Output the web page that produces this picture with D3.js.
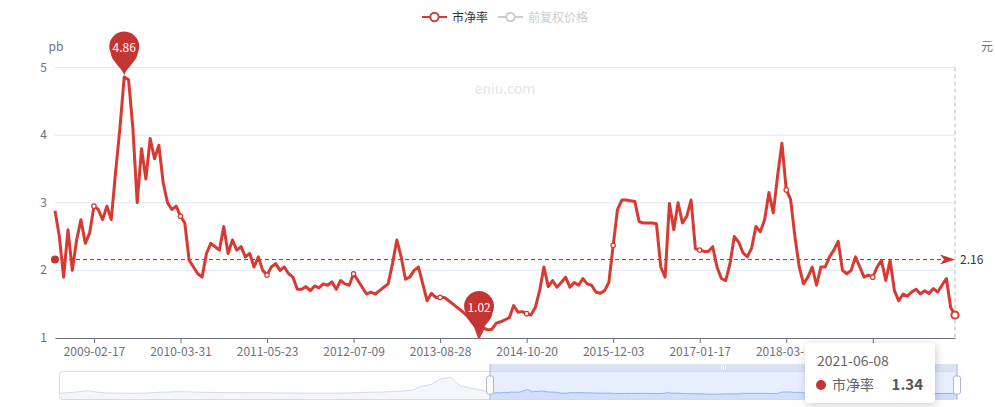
<!DOCTYPE html>
<html><head><meta charset="utf-8">
<script src="https://cdn.jsdelivr.net/npm/d3@7"></script>
<style>
body{margin:0;background:#fff;}
svg{display:block;font-family:"Microsoft YaHei","Noto Sans CJK SC","Noto Sans",sans-serif;}
</style></head><body><svg id="c" width="995" height="407"></svg>
<script>
const seriesNames = ["市净率", "前复权价格"];
const pbValues = [
2.88,2.5,1.9,2.6,2.0,2.45,2.75,2.4,2.55,2.95,
2.9,2.75,2.95,2.75,3.45,4.1,4.86,4.82,4.1,3.0,
3.8,3.35,3.95,3.65,3.85,3.3,3.0,2.9,2.95,2.8,
2.7,2.15,2.05,1.95,1.9,2.25,2.4,2.35,2.3,2.65,
2.25,2.45,2.3,2.35,2.2,2.25,2.05,2.2,2.0,1.93,
2.05,2.1,2.0,2.05,1.95,1.9,1.72,1.72,1.76,1.7,
1.77,1.74,1.8,1.78,1.83,1.72,1.85,1.8,1.78,1.95,
1.85,1.75,1.65,1.68,1.65,1.7,1.75,1.8,2.1,2.45,
2.2,1.87,1.9,2.0,2.05,1.8,1.55,1.66,1.6,1.6,
1.6,1.55,1.5,1.45,1.4,1.34,1.28,1.2,1.02,1.15,
1.12,1.13,1.22,1.24,1.27,1.3,1.48,1.38,1.39,1.36,
1.34,1.45,1.7,2.05,1.76,1.85,1.75,1.82,1.9,1.75,
1.82,1.78,1.88,1.8,1.78,1.68,1.66,1.7,1.82,2.37,
2.9,3.04,3.04,3.03,3.02,2.72,2.7,2.7,2.7,2.69,
2.05,1.9,2.99,2.6,3.0,2.7,2.8,3.04,2.32,2.3,
2.28,2.28,2.35,2.05,1.88,1.85,2.1,2.5,2.42,2.26,
2.2,2.33,2.65,2.57,2.75,3.15,2.85,3.4,3.88,3.19,
3.05,2.5,2.05,1.8,1.9,2.05,1.78,2.05,2.05,2.2,
2.3,2.43,2.0,1.95,2.0,2.2,2.05,1.9,1.93,1.9,
2.05,2.15,1.85,2.15,1.7,1.55,1.65,1.62,1.68,1.72,
1.65,1.7,1.66,1.73,1.68,1.78,1.88,1.45,1.34
];
const tickLabels = ["2009-02-17","2010-03-31","2011-05-23","2012-07-09","2013-08-28",
  "2014-10-20","2015-12-03","2017-01-17","2018-03-12","2019-04-29"];
const labelInterval = 20, labelOffset = 9;
const lastDate = "2021-06-08";
const yTicks = [1, 2, 3, 4, 5];
const avgValue = 2.16;
const historyPreview = [
1.9,2.4,3.2,4.1,2.7,2.2,2.0,1.9,1.9,2.0,
2.7,2.9,3.3,3.2,2.9,2.7,2.6,2.5,2.5,2.4,
2.4,2.4,2.3,2.2,2.1,2.0,1.9,1.9,1.9,2.1,
2.3,2.6,2.8,3.0,3.4,3.8,4.5,8.0,9.5,14.5,
15.5,8.0,6.5,4.8
];
const zoomStart = 0.48;

const lineColor = "#d73a32", pinColor = "#c23531", axisColor = "#6E7079";
const svg = d3.select("#c");
const N = pbValues.length;
const x = d3.scalePoint().domain(d3.range(N)).range([55, 955]);
const y = d3.scaleLinear().domain([1, 5]).range([338, 67.5]);

// gridlines
svg.append("g").selectAll("line").data(yTicks.filter(v => v > 1)).join("line")
  .attr("x1", 55).attr("x2", 955).attr("y1", d => y(d)).attr("y2", d => y(d))
  .attr("stroke", "#E0E6F1").attr("stroke-width", 1);

// watermark
svg.append("text").attr("x", 505).attr("y", 94).attr("text-anchor", "middle")
  .attr("font-size", 14).attr("fill", "#e4e4e4").text("eniu.com");

// y labels
svg.append("g").selectAll("text").data(yTicks).join("text")
  .attr("x", 47).attr("y", d => y(d) + 4).attr("text-anchor", "end")
  .attr("font-size", 12).attr("fill", axisColor).text(d => d);
svg.append("text").attr("x", 56).attr("y", 51).attr("text-anchor", "middle")
  .attr("font-size", 12).attr("fill", axisColor).text("pb");
svg.append("text").attr("x", 987).attr("y", 51).attr("text-anchor", "middle")
  .attr("font-size", 12).attr("fill", axisColor).text("元");

// x axis
const tickIdx = d3.range(N).filter(i => i >= labelOffset && (i - labelOffset) % labelInterval === 0);
const xAxis = d3.axisBottom(x).tickValues(tickIdx).tickSize(5).tickPadding(4)
  .tickFormat(i => tickLabels[(i - labelOffset) / labelInterval]);
const gx = svg.append("g").attr("transform", "translate(0,338)").call(xAxis);
gx.select(".domain").attr("stroke", axisColor).attr("d", "M55.5,0.5H955.5");
gx.selectAll(".tick line").attr("stroke", axisColor);
gx.selectAll(".tick text").attr("fill", axisColor).attr("font-size", 12)
  .attr("font-family", '"Microsoft YaHei","Noto Sans CJK SC",sans-serif');

// axis pointer (hover on last)
svg.append("line").attr("x1", x(N - 1)).attr("x2", x(N - 1)).attr("y1", 67.5).attr("y2", 338)
  .attr("stroke", "#bbb").attr("stroke-dasharray", "4,3");

// average mark line
const ay = y(avgValue);
svg.append("line").attr("x1", 55).attr("x2", 944).attr("y1", ay).attr("y2", ay)
  .attr("stroke", "#b3302c").attr("stroke-width", 1).attr("stroke-dasharray", "4,3");
svg.append("circle").attr("cx", 55).attr("cy", ay).attr("r", 4).attr("fill", pinColor);
svg.append("path").attr("d", `M955,${ay} L940,${ay - 5} L944,${ay} L940,${ay + 5} Z`).attr("fill", pinColor);
svg.append("text").attr("x", 960).attr("y", ay + 4).attr("font-size", 12).attr("fill", "#333").text(avgValue.toFixed(2));

// line
const line = d3.line().x((d, i) => x(i)).y(d => y(d));
svg.append("path").datum(pbValues).attr("d", line).attr("fill", "none")
  .attr("stroke", lineColor).attr("stroke-width", 3).attr("stroke-linejoin", "round");

// symbols at label positions
svg.append("g").selectAll("circle").data(tickIdx).join("circle")
  .attr("cx", i => x(i)).attr("cy", i => y(pbValues[i])).attr("r", 2.2)
  .attr("fill", "#fff").attr("stroke", lineColor).attr("stroke-width", 1.2);
svg.append("circle").attr("cx", x(N - 1)).attr("cy", y(pbValues[N - 1])).attr("r", 3.6)
  .attr("fill", "#fff").attr("stroke", lineColor).attr("stroke-width", 2);

// pins
function pin(i) {
  const px = x(i), py = y(pbValues[i]) - 2;
  const g = svg.append("g").attr("transform", `translate(${px},${py})`);
  g.append("path").attr("d", "M0,0 C-3,-8 -13,-14 -13.5,-22 A15,15 0 1,1 13.5,-22 C13,-14 3,-8 0,0 Z").attr("fill", pinColor);
  g.append("text").attr("x", 0).attr("y", -23).attr("text-anchor", "middle")
    .attr("font-size", 12).attr("fill", "#fff").text(pbValues[i].toFixed(2));
}
pin(d3.maxIndex(pbValues));
pin(d3.minIndex(pbValues));

// legend
const legend = [{name: seriesNames[0], c: lineColor, tc: "#333", x0: 422},
                {name: seriesNames[1], c: "#ccc", tc: "#ccc", x0: 498}];
legend.forEach(l => {
  svg.append("line").attr("x1", l.x0).attr("x2", l.x0 + 25).attr("y1", 17).attr("y2", 17)
    .attr("stroke", l.c).attr("stroke-width", 2);
  svg.append("circle").attr("cx", l.x0 + 12.5).attr("cy", 17).attr("r", 4.2)
    .attr("fill", "#fff").attr("stroke", l.c).attr("stroke-width", 2);
  svg.append("text").attr("x", l.x0 + 30).attr("y", 21.5).attr("font-size", 12)
    .attr("fill", l.tc).text(l.name);
});

// data zoom
const zx0 = 59, zx1 = 957, zTop = 371, zBot = 400;
const selX = zx0 + zoomStart * (zx1 - zx0);
const allMax = d3.max(historyPreview.concat(pbValues));
const py2 = d3.scaleLinear().domain([0, allMax]).range([395.5, 377.5]);
const hx = d3.scaleLinear().domain([0, historyPreview.length]).range([zx0, selX]);
const sx = d3.scaleLinear().domain([0, N - 1]).range([selX, zx1]);
const histPts = historyPreview.map((v, i) => [hx(i), py2(v)]).concat([[selX, py2(pbValues[0])]]);
const selPts = pbValues.map((v, i) => [sx(i), py2(v)]);
const area = d3.area().x(d => d[0]).y0(zBot - 1).y1(d => d[1]);
const ln = d3.line().x(d => d[0]).y(d => d[1]);
svg.append("rect").attr("x", selX).attr("y", zTop).attr("width", zx1 - selX).attr("height", zBot - zTop)
  .attr("fill", "rgba(135,175,255,0.2)");
svg.append("path").attr("d", area(histPts)).attr("fill", "#d2dbee").attr("fill-opacity", 0.25);
svg.append("path").attr("d", ln(histPts)).attr("fill", "none").attr("stroke", "#d2dbee").attr("stroke-width", 1);
svg.append("path").attr("d", area(selPts)).attr("fill", "#8fb0f7").attr("fill-opacity", 0.25);
svg.append("path").attr("d", ln(selPts)).attr("fill", "none").attr("stroke", "#8fb0f7").attr("stroke-width", 1);
svg.append("rect").attr("x", zx0 + 0.5).attr("y", zTop + 0.5).attr("width", zx1 - zx0 - 1).attr("height", zBot - zTop - 1)
  .attr("rx", 3).attr("fill", "none").attr("stroke", "#d2dbee");
svg.append("rect").attr("x", selX).attr("y", 364).attr("width", zx1 - selX).attr("height", 7)
  .attr("fill", "#d2dbee").attr("fill-opacity", 0.8);
const midX = (selX + zx1) / 2;
[-2, 0, 2].forEach(o => svg.append("line").attr("x1", midX + o).attr("x2", midX + o).attr("y1", 365.5).attr("y2", 369.5)
  .attr("stroke", "#fff").attr("stroke-width", 1));
[selX, zx1].forEach(hxp => {
  svg.append("line").attr("x1", hxp).attr("x2", hxp).attr("y1", 364).attr("y2", zBot)
    .attr("stroke", "#ACB8D1").attr("stroke-width", 1);
  svg.append("rect").attr("x", hxp - 3.5).attr("y", 376).attr("width", 7).attr("height", 18).attr("rx", 2)
    .attr("fill", "#fff").attr("stroke", "#ACB8D1");
});

// tooltip
const defs = svg.append("defs");
const f = defs.append("filter").attr("id", "sh").attr("x", "-30%").attr("y", "-30%").attr("width", "160%").attr("height", "160%");
f.append("feDropShadow").attr("dx", 1).attr("dy", 2).attr("stdDeviation", 4).attr("flood-color", "rgba(0,0,0,0.2)");
const tt = svg.append("g").attr("transform", "translate(805,343)");
tt.append("rect").attr("width", 130).attr("height", 60).attr("rx", 4).attr("fill", "#fff")
  .attr("filter", "url(#sh)");
tt.append("text").attr("x", 12).attr("y", 23).attr("font-size", 14).attr("fill", "#666").text(lastDate);
tt.append("circle").attr("cx", 16).attr("cy", 42).attr("r", 5).attr("fill", pinColor);
tt.append("text").attr("x", 27).attr("y", 47).attr("font-size", 14).attr("fill", "#666").text(seriesNames[0]);
tt.append("text").attr("x", 118).attr("y", 47).attr("text-anchor", "end").attr("font-size", 15)
  .attr("font-weight", "bold").attr("fill", "#555").text(pbValues[N - 1].toFixed(2));
</script></body></html>
